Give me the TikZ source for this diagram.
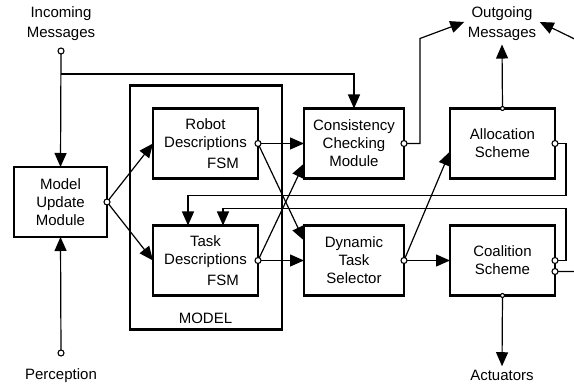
\documentclass[tikz,border=0pt]{standalone}
\usepackage{fontspec}
\setmainfont{Liberation Sans}
\usetikzlibrary{arrows.meta,positioning,calc}

\begin{document}
\begin{tikzpicture}[x=1pt, y=-1pt, every node/.style={font=\fontsize{15}{18}\selectfont, align=center},
  b/.style={draw, line width=2.6pt, minimum width=105pt, minimum height=70pt, outer sep=0pt, inner sep=2pt},
  a/.style={-{Triangle[length=14pt,width=12pt]}, line width=1.2pt},
  pt/.style={draw, line width=1.1pt, fill=white},
  frame/.style={draw, line width=2.6pt}]
  \useasboundingbox (0,0) rectangle (574,387);
  % the model with its two descriptions
  \node[b] (rd) at (205.5,143.5) {Robot\\Descriptions\\[3pt]\hspace*{35pt}FSM};
  \node[b, below=47pt of rd] (td) {Task\\Descriptions\\[3pt]\hspace*{35pt}FSM};
  \draw[frame] ($(rd.north west)+(-23,-23)$) rectangle ($(td.south east)+(24,34)$);
  \node (mlab) at ($(td.south)+(0,23)$) {MODEL};
  \coordinate (mid) at ($(rd.west)!.5!(td.west)$);
  \node[b, minimum width=93pt, left=46pt of mid] (mum) {Model\\Update\\Module};
  \node[b, minimum width=100pt, right=46pt of rd] (ccm) {Consistency\\Checking\\Module};
  \node[b, minimum width=100pt, right=46pt of td] (dts) {Dynamic\\Task\\Selector};
  \node[b, right=46pt of ccm] (alloc) {Allocation\\Scheme};
  \node[b, right=46pt of dts] (coal) {Coalition\\Scheme};
  % inputs and outputs
  \node (inc) at (61,24) {Incoming\\[2pt]Messages};
  \coordinate (inport) at (61,51);
  \coordinate (tap) at (61,74);
  \node (per) at (61,376) {Perception};
  \coordinate (pin) at (61,353);
  \node (out) at (502,24) {Outgoing\\[2pt]Messages};
  \node (act) at (502,375) {Actuators};
  \coordinate (cp2) at ($(coal.east)+(0,11)$);

  \draw[a] (inport) -- (mum.north);
  \draw[a] (tap) -| (ccm.north);
  \draw[a] (pin) -- (mum.south);
  \draw[a] (mum.east) -- (rd.west);
  \draw[a] (mum.east) -- (td.west);
  \draw[a] (rd.east) -- (ccm.west);
  \draw[a] (rd.east) -- ($(dts.west)+(0,-20)$);
  \draw[a] (td.east) -- (dts.west);
  \draw[a] (td.east) -- ($(ccm.west)+(0,20)$);
  \draw[a] (ccm.east) -| ($(ccm.east)+(16,-105)$) -- ($(out.west)+(0,-2)$);
  \draw[a] (dts.east) -- (coal.west);
  \draw[a] (dts.east) -- ($(alloc.west)+(0,8)$);
  \draw[a] (alloc.north) -- (out.south);
  \draw[a] (alloc.east) -| ($(alloc.east)+(11,52)$) -| ($(td.north west)+(35,0)$);
  \draw[a] (coal.east) -| ($(coal.east)+(11,-52)$) -| ($(td.north east)+(-35,0)$);
  \draw[a] (cp2) -| ($(out.east)+(41,18)$) -- ($(out.east)+(0,-2)$);
  \draw[a] (coal.south) -- (act.north);

  % ports
  \foreach \p in {inport, pin, mum.east, rd.east, td.east, ccm.east, dts.east, alloc.east, coal.east, cp2}
    \draw[pt] (\p) circle (3pt);
  \draw[pt] (alloc.north) circle (2pt);
  \draw[pt] (coal.south) circle (2pt);
\end{tikzpicture}
\end{document}
